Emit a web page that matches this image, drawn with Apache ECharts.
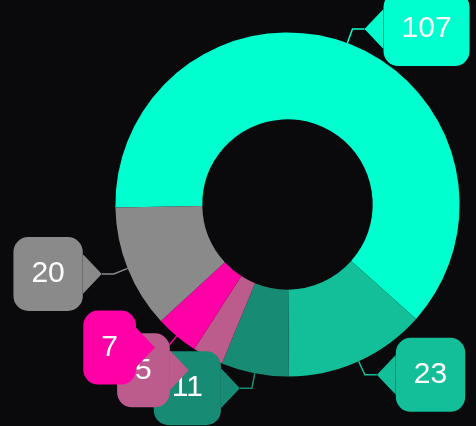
<!DOCTYPE html>
<html>
<head>
<meta charset="utf-8">
<style>
  html, body { margin: 0; padding: 0; background: #0a0a0d; }
  #chart { width: 476px; height: 426px; }
</style>
<script src="https://cdn.jsdelivr.net/npm/echarts@6/dist/echarts.min.js"></script>
</head>
<body>
<div id="chart"></div>
<script>
const names = ['A', 'B', 'C', 'D', 'E', 'F']
const values = [107, 23, 11, 5, 7, 20]
const colors = ['#00ffcf', '#13bf98', '#188b74', '#bb5c8c', '#ff00a6', '#8a8a8a']

const startAngle = 181
const total = values.reduce((a, b) => a + b, 0)

// little triangle drawn as the background of a rich text token
function triangle(color, pointLeft) {
  const pts = pointLeft ? '0,20 20,0 20,40' : '0,0 20,20 0,40'
  const svg = '<svg xmlns="http://www.w3.org/2000/svg" width="20" height="40">' +
    '<polygon points="' + pts + '" fill="' + color + '"/></svg>'
  return 'data:image/svg+xml;charset=utf-8,' + encodeURIComponent(svg)
}

const rich = {}
colors.forEach((c, i) => {
  rich['b' + i] = {
    backgroundColor: c,
    borderRadius: 15,
    padding: [22, 18],
    fontSize: 30,
    lineHeight: 30,
    color: '#fff',
    fontFamily: '"Liberation Sans", Arial, sans-serif',
    verticalAlign: 'middle'
  }
  rich['l' + i] = { width: 19, height: 40, backgroundColor: { image: triangle(c, true) }, verticalAlign: 'middle' }
  rich['r' + i] = { width: 19, height: 40, backgroundColor: { image: triangle(c, false) }, verticalAlign: 'middle' }
})

function isLeft(idx) {
  let before = 0
  for (let i = 0; i < idx; i++) before += values[i]
  const mid = (startAngle - (before + values[idx] / 2) / total * 360) * Math.PI / 180
  return Math.cos(mid) < 0
}

const chart = echarts.init(document.getElementById('chart'))
chart.setOption({
  backgroundColor: '#0a0a0d',
  animation: false,
  series: [
    {
      type: 'pie',
      center: ['60.4%', '48%'],
      radius: ['40%', '80.8%'],
      startAngle: startAngle,
      avoidLabelOverlap: false,
      labelLayout: { hideOverlap: false },
      label: {
        show: true,
        position: 'outside',
        distanceToLabelLine: 0,
        formatter: p => {
          const i = p.dataIndex
          return isLeft(i)
            ? '{b' + i + '|' + p.value + '}{r' + i + '| }'
            : '{l' + i + '| }{b' + i + '|' + p.value + '}'
        },
        rich: rich
      },
      labelLine: {
        show: true,
        length: 15,
        length2: 12,
        lineStyle: { width: 1.5 }
      },
      data: names.map((n, i) => ({
        name: n,
        value: values[i],
        itemStyle: { color: colors[i] }
      }))
    }
  ]
})
</script>
</body>
</html>
